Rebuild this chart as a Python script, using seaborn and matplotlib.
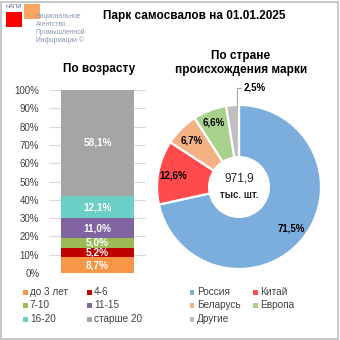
import numpy as np
import pandas as pd
import matplotlib
matplotlib.use("Agg")
import matplotlib.pyplot as plt
from matplotlib.patches import Rectangle, Circle
import seaborn as sns

# ---- data ----
age_groups = ["до 3 лет", "4-6", "7-10", "11-15", "16-20", "старше 20"]
age_share = [8.7, 5.2, 5.0, 11.0, 12.1, 58.1]
age_colors = ["#F79646", "#C00000", "#9BBB59", "#8064A2", "#6CCFC6", "#A5A5A5"]

countries = ["Россия", "Китай", "Беларусь", "Европа", "Другие"]
country_share = [71.5, 12.6, 6.7, 6.6, 2.5]
country_colors = ["#7BAEDD", "#FF4B4B", "#F4B183", "#A9D18E", "#BFBFBF"]

total_text = "971,9"
total_unit = "тыс. шт."
title = "Парк самосвалов на 01.01.2025"
sub_age = "По возрасту"
sub_country = "По стране\nпроисхождения марки"
yticks = list(range(0, 101, 10))

sns.set_theme(style="white")
plt.rcParams["font.family"] = ["Liberation Sans", "DejaVu Sans"]

W = H = 340
fig = plt.figure(figsize=(3.4, 3.4), dpi=100)
fig.patch.set_facecolor("white")

def fx(px):
    return px / W

def fy(py):
    return 1 - py / H

# border
fig.add_artist(Rectangle((0.003, 0.003), 0.992, 0.992, transform=fig.transFigure,
                         fill=False, edgecolor="#BFBFBF", linewidth=1.2))

# logo
fig.add_artist(Rectangle((fx(24), fy(19)), 16 / W, 15 / H, transform=fig.transFigure,
                         facecolor="#F79646", edgecolor="none", alpha=0.85))
fig.add_artist(Rectangle((fx(6), fy(27)), 16 / W, 15 / H, transform=fig.transFigure,
                         facecolor="#FF0000", edgecolor="none"))
fig.text(fx(6), fy(7), "НАПИ", fontsize=4.2, color="#5A6E8C", va="center", ha="left")
for i, line in enumerate(["Национальное", "Агентство", "Промышленной", "Информации ©"]):
    fig.text(fx(36), fy(16 + i * 8), line, fontsize=4.8, color="#8596AE",
             va="center", ha="left")

# titles
fig.text(fx(194), fy(16), title, fontsize=8.5, fontweight="bold", ha="center",
         va="center", color="#000000")
fig.text(fx(99), fy(69), sub_age, fontsize=8.5, fontweight="bold", ha="center",
         va="center", color="#000000")
fig.text(fx(241), fy(63), sub_country, fontsize=8.5, fontweight="bold", ha="center",
         va="center", color="#000000", linespacing=1.2)

# ---- stacked bar ----
axb = fig.add_axes([fx(49), fy(273), (146 - 49) / W, (273 - 90) / H])
cum = np.cumsum(age_share)
df = pd.DataFrame({"g": [""] * len(age_groups), "grp": age_groups, "cum": cum})
for i in range(len(age_groups) - 1, -1, -1):
    sns.barplot(data=df.iloc[[i]], x="g", y="cum", color=age_colors[i], width=0.76,
                saturation=1, ax=axb, edgecolor="none", linewidth=0, zorder=2)
bottoms = np.concatenate([[0], cum[:-1]])
for v, b in zip(age_share, bottoms):
    axb.text(0, b + v / 2, f"{v:.1f}%".replace(".", ","), ha="center", va="center",
             color="white", fontsize=7.2, fontweight="bold", zorder=3)
axb.set_ylim(0, 100)
axb.set_xlim(-0.5, 0.5)
axb.set_yticks(yticks)
axb.set_yticklabels([f"{t}%" for t in yticks], fontsize=7, color="#404040")
axb.yaxis.grid(True, color="#D9D9D9", linewidth=0.8)
axb.set_axisbelow(True)
axb.tick_params(axis="y", length=0, pad=7)
axb.set_xticks([])
axb.set_xlabel("")
axb.set_ylabel("")
for s in axb.spines.values():
    s.set_visible(False)

# ---- donut ----
R = 82
axp = fig.add_axes([fx(239 - 90), fy(187 + 90), 180 / W, 180 / H])
wedges, texts = axp.pie(country_share, colors=country_colors, startangle=90,
                        counterclock=False, radius=1,
                        wedgeprops=dict(edgecolor="white", linewidth=1.6))
axp.add_patch(Circle((0, 0), 31 / R, facecolor="white", edgecolor="none", zorder=5))
axp.set_xlim(-90 / R, 90 / R)
axp.set_ylim(-90 / R, 90 / R)
axp.set_aspect("equal")
axp.axis("off")
axp.text(0, 0.1, total_text, ha="center", va="center", fontsize=8.6, zorder=6)
axp.text(0, -0.1, total_unit, ha="center", va="center", fontsize=7,
         fontweight="bold", zorder=6)

start = 90.0
for i, (v, w) in enumerate(zip(country_share, wedges)):
    mid = np.deg2rad(start - 360 * (sum(country_share[:i]) + v / 2) / 100)
    lab = f"{v:.1f}%".replace(".", ",")
    if i < len(country_share) - 1:
        r = 0.81 if i != 3 else 0.85
        axp.text(r * np.cos(mid), r * np.sin(mid), lab, ha="center", va="center",
                 fontsize=7, fontweight="bold", color="#000000", zorder=6)
    else:
        x0 = -2 / R
        axp.plot([x0, x0, 2 / R], [0.98, 99 / R, 99 / R], color="#A6A6A6",
                 linewidth=0.8, clip_on=False, zorder=6)
        axp.text(5 / R, 99 / R, lab, ha="left", va="center", fontsize=7,
                 fontweight="bold", color="#000000", clip_on=False, zorder=6)

# ---- legends ----
def legend_block(labels, colors, xs, ys):
    for k, (lab, col) in enumerate(zip(labels, colors)):
        x = xs[k % 2]
        y = ys[k // 2]
        fig.add_artist(Rectangle((fx(x - 2.5), fy(y + 2.5)), 5 / W, 5 / H,
                                 transform=fig.transFigure, facecolor=col,
                                 edgecolor="none"))
        fig.text(fx(x + 5), fy(y), lab, fontsize=7.2, va="center", ha="left",
                 color="#404040")

legend_block(age_groups, age_colors, [25, 89], [292, 305, 319])
legend_block(countries, country_colors, [192, 255], [292, 305, 319])

fig.savefig("out.png", dpi=100, facecolor="white")
